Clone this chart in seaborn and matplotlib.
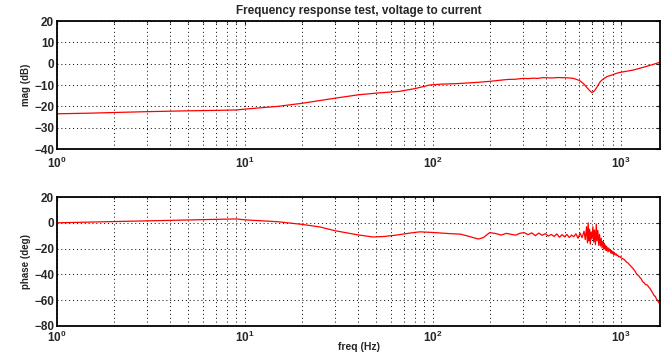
import matplotlib
matplotlib.use("Agg")
import matplotlib.pyplot as plt
import matplotlib.ticker as mticker
import seaborn as sns
import pandas as pd

mag_freq = [1, 1.5, 2, 3, 5, 7, 9, 10, 15, 20, 30, 40, 50, 66, 80, 96, 110, 130, 150,
            175, 200, 225, 250, 275, 300, 320, 340, 360, 380, 400, 430, 460, 500, 530,
            557, 580, 603, 630, 655, 680, 700, 720, 744, 760, 775, 800, 840, 900, 946,
            1000, 1160, 1300, 1450, 1600]
mag_db = [-23.5, -23.2, -22.9, -22.5, -22.1, -21.9, -21.7, -21.3, -20.0, -18.6, -16.2,
          -14.6, -13.8, -13.0, -11.7, -10.0, -9.6, -9.4, -9.1, -8.7, -8.3, -7.8, -7.4,
          -7.3, -6.9, -7.0, -6.8, -6.9, -6.6, -6.6, -6.7, -6.5, -6.6, -6.7, -6.9, -7.4,
          -8.0, -9.3, -11.0, -12.6, -13.6, -12.8, -11.0, -9.6, -8.4, -7.3, -6.1, -5.2,
          -4.5, -4.0, -3.0, -1.8, -0.6, 0.6]

ph_freq = [1, 2, 3, 5, 7, 9, 10, 15, 20, 25, 30, 40, 48, 55, 64, 75, 85, 100, 120, 140,
           155, 174, 185, 200, 215, 230, 245, 260, 275, 290, 305, 320, 335, 350, 365,
           380, 395, 410, 425, 440, 455, 470, 485, 500, 515, 530, 545, 560, 575, 590,
           605, 620, 635, 645, 655, 662, 668, 674, 680, 686, 692, 700, 708, 715, 722,
           730, 738, 744, 752, 760, 768, 776, 784, 792, 800, 805, 810, 815, 820, 826,
           832, 838, 845, 852, 860, 867, 875, 882, 890, 897, 905, 912, 920, 930, 940,
           950, 960, 972, 985, 997, 1010, 1025, 1040, 1055, 1070, 1085, 1100, 1125, 1150,
           1180, 1213, 1240, 1260, 1280, 1300, 1325, 1350, 1370, 1390, 1405, 1420, 1440,
           1460, 1480, 1500, 1520, 1540, 1560, 1580, 1600]
ph_deg = [0.0, 0.9, 1.5, 2.2, 2.7, 3.0, 2.3, 0.8, -1.2, -3.2, -6.1, -9.4, -11.0, -10.6,
          -9.5, -8.0, -7.0, -7.5, -8.3, -8.8, -10.5, -12.6, -11.5, -7.6, -8.3, -9.5,
          -8.2, -8.9, -9.6, -8.1, -7.6, -9.2, -7.8, -10.0, -8.0, -9.7, -8.4, -10.3,
          -9.0, -10.6, -8.6, -11.2, -9.2, -10.9, -9.0, -11.4, -9.5, -10.8, -8.5, -12.0,
          -8.0, -11.5, -6.5, -13.0, -3.0, -15.5, 0.0, -14.0, -5.0, -16.5, -7.0, -12.5,
          -3.0, -15.0, -5.5, -17.0, -1.0, -14.0, -6.0, -17.5, -9.0, -18.0, -12.0, -19.5,
          -14.5, -18.0, -20.5, -16.0, -19.5, -17.5, -21.5, -18.5, -20.0, -22.5, -19.5,
          -22.0, -21.0, -23.5, -21.5, -23.8, -22.5, -24.5, -23.0, -25.0, -24.0, -25.5,
          -25.0, -26.5, -26.0, -27.0, -27.5, -28.0, -28.5, -29.5, -30.5, -31.0, -32.0,
          -33.5, -35.0, -37.0, -40.0, -41.0, -42.5, -43.5, -45.5, -46.5, -48.0, -48.0,
          -49.0, -50.0, -50.7, -52.0, -53.5, -55.0, -56.5, -57.0, -59.0, -60.0, -61.6,
          -62.5]

title = "Frequency response test, voltage to current"

sns.set_style("white")
plt.rcParams["font.family"] = ["Liberation Sans", "DejaVu Sans"]
plt.rcParams["font.weight"] = "bold"
plt.rcParams["mathtext.fontset"] = "custom"
plt.rcParams["mathtext.rm"] = "Liberation Sans:bold"
plt.rcParams["mathtext.default"] = "rm"

fig = plt.figure(figsize=(6.67, 3.56), dpi=100)
ax1 = fig.add_axes([57/667, 1-149/356, 603/667, 128/356])
ax2 = fig.add_axes([57/667, 1-326/356, 603/667, 129/356])

mag_df = pd.DataFrame({"f": mag_freq, "v": mag_db})
ph_df = pd.DataFrame({"f": ph_freq, "v": ph_deg})
sns.lineplot(data=mag_df, x="f", y="v", ax=ax1, color="red", linewidth=0.9, sort=False)
sns.lineplot(data=ph_df, x="f", y="v", ax=ax2, color="red", linewidth=0.9, sort=False)

for ax, ylim, yt in [(ax1, (-40, 20), range(-40, 21, 10)), (ax2, (-80, 20), range(-80, 21, 20))]:
    ax.set_xscale("log")
    ax.set_xlim(1, 1610)
    ax.set_ylim(*ylim)
    ax.set_yticks(list(yt))
    ax.xaxis.set_major_locator(mticker.LogLocator(base=10, numticks=10))
    ax.xaxis.set_minor_locator(mticker.LogLocator(base=10, subs=range(2, 10), numticks=20))
    ax.xaxis.set_minor_formatter(mticker.NullFormatter())
    ax.grid(True, which="both", axis="x", color="black", linestyle=(0, (1, 3)), linewidth=0.7)
    ax.grid(True, which="major", axis="y", color="black", linestyle=(0, (1, 3)), linewidth=0.7)
    ax.tick_params(which="both", direction="in", top=True, right=True, labelsize=8.5,
                   length=3, width=0.8)
    ax.tick_params(axis="y", pad=2)
    ax.tick_params(which="minor", length=1.5)
    for s in ax.spines.values():
        s.set_visible(True)
        s.set_color("black")
        s.set_linewidth(1.3)
    for lab in ax.get_yticklabels():
        lab.set_fontweight("bold")

ax1.tick_params(axis="x", pad=5)
ax2.tick_params(axis="x", pad=3)

ax1.set_xlabel("")
ax1.set_ylabel("mag (dB)", fontsize=7, fontweight="bold", labelpad=2)
ax2.set_ylabel("phase (deg)", fontsize=7, fontweight="bold", labelpad=2)
ax2.set_xlabel("freq (Hz)", fontsize=7.5, fontweight="bold")
ax2.xaxis.set_label_coords(0.5, -0.125)
ax1.set_title(title, fontsize=8.5, fontweight="bold", pad=5)

fig.savefig("out.png", dpi=100, facecolor="white")
